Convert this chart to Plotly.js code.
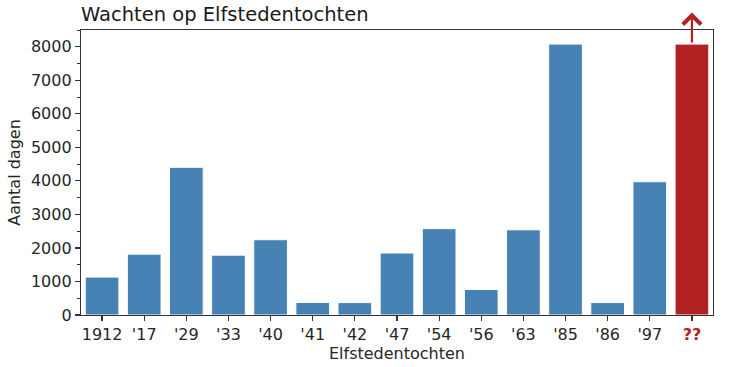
<!DOCTYPE html>
<html>
<head>
<meta charset="utf-8">
<script src="https://cdn.plot.ly/plotly-3.0.1.min.js"></script>
<style>html,body{margin:0;padding:0;background:#fff;}#chart{width:732px;height:367px;}</style>
</head>
<body>
<div id="chart"></div>
<script>
var categories = ["1912", "'17", "'29", "'33", "'40", "'41", "'42", "'47", "'54", "'56", "'63", "'85", "'86", "'97", "??"];
var days = [1130, 1815, 4405, 1785, 2245, 375, 370, 1850, 2575, 760, 2540, 8080, 370, 3975, 8080];
var barColors = ["#4682b4","#4682b4","#4682b4","#4682b4","#4682b4","#4682b4","#4682b4","#4682b4","#4682b4","#4682b4","#4682b4","#4682b4","#4682b4","#4682b4","#b22222"];
var tickLabels = ["1912", "'17", "'29", "'33", "'40", "'41", "'42", "'47", "'54", "'56", "'63", "'85", "'86", "'97", "<b><span style='color:#b22222'>??</span></b>"];
var arrowTip = 9020;

var trace = {
  type: 'bar',
  x: categories,
  y: days,
  marker: {color: barColors, line: {color: '#ffffff', width: 1}},
  hoverinfo: 'x+y'
};

var font = {family: 'DejaVu Sans, sans-serif', color: '#262626'};

var layout = {
  width: 732, height: 367,
  margin: {l: 81, r: 19, t: 30, b: 52, pad: 0},
  paper_bgcolor: '#ffffff', plot_bgcolor: '#ffffff',
  bargap: 0.2,
  showlegend: false,
  font: font,
  title: {text: 'Wachten op Elfstedentochten', x: 81/732, xanchor: 'left', y: 1 - 14/367, yanchor: 'middle',
          font: {family: 'DejaVu Sans, sans-serif', size: 19.5, color: '#1a1a1a'}},
  xaxis: {
    type: 'category',
    tickvals: categories, ticktext: tickLabels,
    showgrid: false, zeroline: false,
    showline: true, mirror: true, linecolor: '#333333', linewidth: 1.2,
    ticks: 'outside', ticklen: 5, tickwidth: 1.2, tickcolor: '#333333',
    tickfont: {family: 'DejaVu Sans, sans-serif', size: 16, color: '#262626'},
    title: {text: 'Elfstedentochten', standoff: 4, font: {family: 'DejaVu Sans, sans-serif', size: 16, color: '#262626'}}
  },
  yaxis: {
    range: [0, 8500],
    tickvals: [0,1000,2000,3000,4000,5000,6000,7000,8000],
    showgrid: false, zeroline: false,
    showline: true, mirror: true, linecolor: '#333333', linewidth: 1.2,
    ticks: 'outside', ticklen: 5, tickwidth: 1.2, tickcolor: '#333333',
    minor: {dtick: 500, ticks: 'outside', ticklen: 3, tickwidth: 1, tickcolor: '#333333', showgrid: false},
    tickfont: {family: 'DejaVu Sans, sans-serif', size: 16, color: '#262626'},
    title: {text: 'Aantal dagen', standoff: 6, font: {family: 'DejaVu Sans, sans-serif', size: 16, color: '#262626'}}
  },
  annotations: [{
    x: categories[categories.length - 1], y: arrowTip, xref: 'x', yref: 'y',
    ax: categories[categories.length - 1], ay: days[days.length - 1], axref: 'x', ayref: 'y',
    text: '', showarrow: true, arrowhead: 4, arrowsize: 1.6, arrowwidth: 2.2, arrowcolor: '#b22222'
  }]
};

Plotly.newPlot('chart', [trace], layout, {displayModeBar: false, staticPlot: true});
</script>
</body>
</html>
